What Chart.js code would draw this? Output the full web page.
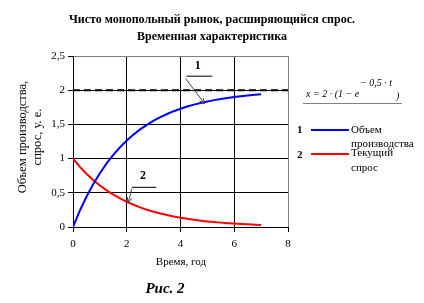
<!DOCTYPE html>
<html>
<head>
<meta charset="utf-8">
<script src="https://cdn.jsdelivr.net/npm/chart.js@4/dist/chart.umd.min.js"></script>
<style>
  body { margin: 0; background: #fff; }
  canvas { display: block; }
</style>
</head>
<body>
<canvas id="myChart" width="424" height="303"></canvas>
<script>
// time, years
const time = [0, 0.25, 0.5, 0.75, 1, 1.25, 1.5, 1.75, 2, 2.25, 2.5, 2.75, 3, 3.25, 3.5,
    3.75, 4, 4.25, 4.5, 4.75, 5, 5.25, 5.5, 5.75, 6, 6.25, 6.5, 6.75, 7];
// 1 - output volume
const output = [0, 0.235, 0.442, 0.625, 0.787, 0.929, 1.055, 1.166, 1.264, 1.351, 1.427,
    1.494, 1.554, 1.606, 1.652, 1.693, 1.729, 1.761, 1.789, 1.814, 1.836, 1.855, 1.872,
    1.887, 1.900, 1.912, 1.922, 1.932, 1.940];
// 2 - current demand
const demand = [1, 0.883, 0.779, 0.687, 0.607, 0.535, 0.472, 0.417, 0.368, 0.325, 0.287,
    0.253, 0.223, 0.197, 0.174, 0.153, 0.135, 0.119, 0.105, 0.093, 0.082, 0.072, 0.064,
    0.056, 0.050, 0.044, 0.039, 0.034, 0.030];
// saturation level
const limitX = [0, 8];
const limitY = [2, 2];

const xTicks = [0, 2, 4, 6, 8];
const yTicks = [0, 0.5, 1, 1.5, 2, 2.5];

const serif = '"Liberation Serif", "Times New Roman", serif';

function pts(xs, ys) {
    return xs.map((x, i) => ({ x: x, y: ys[i] }));
}

// titles, legend, formula and the callout arrows
const decor = {
    id: 'decor',
    afterDraw(chart) {
        const c = chart.ctx;
        const xs = chart.scales.x;
        const ys = chart.scales.y;
        c.save();
        c.fillStyle = '#000';
        c.textAlign = 'center';
        c.textBaseline = 'middle';

        c.font = 'bold 12px ' + serif;
        c.fillText('Чисто монопольный рынок, расширяющийся спрос.', 212, 20);
        c.fillText('Временная характеристика', 212, 37);

        c.font = '11px ' + serif;
        c.fillText('Время, год', 181, 262);

        c.font = '12.5px ' + serif;
        c.save();
        c.translate(23, 137);
        c.rotate(-Math.PI / 2);
        c.fillText('Объем производства,', 0, 0);
        c.restore();
        c.save();
        c.translate(38, 137);
        c.rotate(-Math.PI / 2);
        c.fillText('спрос, у. е.', 0, 0);
        c.restore();

        c.font = 'bold italic 15px ' + serif;
        c.fillText('Рис. 2', 165, 289);

        // formula
        c.textAlign = 'left';
        c.font = 'italic 10px ' + serif;
        c.fillText('x = 2 · (1 − e', 306, 94);
        c.fillText('− 0,5 · t', 360, 83);
        c.fillText(')', 396, 96);
        c.strokeStyle = '#808080';
        c.lineWidth = 1;
        c.beginPath();
        c.moveTo(303, 103.5);
        c.lineTo(402, 103.5);
        c.stroke();

        // legend
        c.font = 'bold 11px ' + serif;
        c.fillText('1', 297, 130);
        c.fillText('2', 297, 155);
        c.lineWidth = 2;
        c.strokeStyle = '#0000ff';
        c.beginPath();
        c.moveTo(311, 130);
        c.lineTo(349, 130);
        c.stroke();
        c.strokeStyle = '#ff0000';
        c.beginPath();
        c.moveTo(311, 154);
        c.lineTo(349, 154);
        c.stroke();
        c.font = '11px ' + serif;
        c.fillText('Объем', 351, 130);
        c.fillText('производства', 351, 144);
        c.fillText('Текущий', 351, 153);
        c.fillText('спрос', 351, 168);

        // callouts
        function callout(label, lx, ly, u0, u1, uy, ax, ay, bx, by) {
            const X = v => xs.getPixelForValue(v);
            const Y = v => ys.getPixelForValue(v);
            c.font = 'bold 12px ' + serif;
            c.textAlign = 'center';
            c.fillStyle = '#000';
            c.fillText(label, X(lx), Y(ly));
            c.strokeStyle = '#000';
            c.lineWidth = 1;
            c.beginPath();
            c.moveTo(X(u0), Y(uy));
            c.lineTo(X(u1), Y(uy));
            c.stroke();
            const x1 = X(ax), y1 = Y(ay), x2 = X(bx), y2 = Y(by);
            c.strokeStyle = '#404040';
            c.beginPath();
            c.moveTo(x1, y1);
            c.lineTo(x2, y2);
            const a = Math.atan2(y2 - y1, x2 - x1);
            c.moveTo(x2, y2);
            c.lineTo(x2 - 6 * Math.cos(a - 0.4), y2 - 6 * Math.sin(a - 0.4));
            c.moveTo(x2, y2);
            c.lineTo(x2 - 6 * Math.cos(a + 0.4), y2 - 6 * Math.sin(a + 0.4));
            c.stroke();
        }
        callout('1', 4.64, 2.35, 4.22, 5.18, 2.205, 4.19, 2.17, 4.9, 1.8);
        callout('2', 2.6, 0.75, 2.19, 3.1, 0.58, 2.19, 0.56, 2.05, 0.35);

        c.restore();
    }
};

const gridColor = (ctx, last) => (ctx.tick && ctx.tick.value === last ? '#808080' : '#000');

const ctx = document.getElementById('myChart').getContext('2d');
const myChart = new Chart(ctx, {
    type: 'line',
    data: {
        datasets: [
            {
                label: 'Объем производства',
                data: pts(time, output),
                borderColor: '#0000ff',
                borderWidth: 2,
                pointRadius: 0,
                tension: 0
            },
            {
                label: 'Текущий спрос',
                data: pts(time, demand),
                borderColor: '#ff0000',
                borderWidth: 2,
                pointRadius: 0,
                tension: 0
            },
            {
                label: 'limit',
                data: pts(limitX, limitY),
                borderColor: '#000',
                borderWidth: 2,
                borderDash: [7, 4],
                pointRadius: 0
            }
        ]
    },
    options: {
        responsive: false,
        animation: false,
        events: [],
        layout: { padding: { top: 56, right: 136, left: 0, bottom: 0 } },
        plugins: { legend: { display: false }, tooltip: { enabled: false } },
        scales: {
            x: {
                type: 'linear',
                min: 0,
                max: 8,
                afterFit(scale) { scale.height = 76; },
                afterBuildTicks(scale) { scale.ticks = xTicks.map(v => ({ value: v })); },
                grid: {
                    color: c => gridColor(c, 8),
                    tickColor: '#000',
                    tickLength: 5
                },
                border: { color: '#000' },
                ticks: {
                    color: '#000',
                    padding: 6,
                    maxRotation: 0,
                    font: { family: serif, size: 11 }
                }
            },
            y: {
                min: 0,
                max: 2.5,
                afterFit(scale) { scale.width = 73; },
                afterBuildTicks(scale) { scale.ticks = yTicks.map(v => ({ value: v })); },
                grid: {
                    color: c => gridColor(c, 2.5),
                    tickColor: '#000',
                    tickLength: 5
                },
                border: { color: '#000' },
                ticks: {
                    color: '#000',
                    padding: 3,
                    font: { family: serif, size: 11 },
                    callback: v => String(v).replace('.', ',')
                }
            }
        }
    },
    plugins: [decor]
});
</script>
</body>
</html>
